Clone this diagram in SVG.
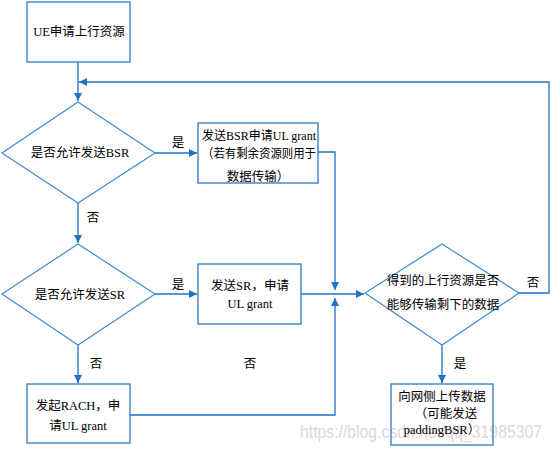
<svg xmlns="http://www.w3.org/2000/svg" width="552" height="450" viewBox="0 0 552 450">
<defs>
<marker id="ah" viewBox="0 0 10 10" refX="10" refY="5" markerWidth="9" markerHeight="8" markerUnits="userSpaceOnUse" orient="auto">
<path d="M0,0 L10,5 L0,10 z" fill="#1f72c4"/>
</marker>
<style>
.box{fill:#fff;stroke:#2e78c2;stroke-width:1.3}
.dia{fill:#fff;stroke:#3d8cd4;stroke-width:1.2}
.ln{fill:none;stroke:#1f72c4;stroke-width:1.3}
.t{font-family:"Liberation Serif","Noto Sans CJK SC",serif;font-size:12.5px;fill:#000;text-anchor:middle}
.wm{font-family:"Liberation Sans",Arial,sans-serif;font-size:19px;fill:#d9d9d9}
</style>
</defs>
<rect width="552" height="450" fill="#fff"/>
<text class="wm" x="300" y="438" textLength="242" lengthAdjust="spacingAndGlyphs">https://blog.csdn.net/qq_31985307</text>
<g id="connectors">
<path class="ln" d="M78,62 V101" marker-end="url(#ah)"/>
<path class="ln" d="M519,293 H549 V82 H79" marker-end="url(#ah)"/>
<path class="ln" d="M155,153 H197" marker-end="url(#ah)"/>
<path class="ln" d="M78,203 V243" marker-end="url(#ah)"/>
<path class="ln" d="M318,152 H335 V290" marker-end="url(#ah)"/>
<path class="ln" d="M155,294 H197" marker-end="url(#ah)"/>
<path class="ln" d="M301,294 H364" marker-end="url(#ah)"/>
<path class="ln" d="M78,345 V383" marker-end="url(#ah)"/>
<path class="ln" d="M130,415 H335 V298" marker-end="url(#ah)"/>
<path class="ln" d="M442,345 V383" marker-end="url(#ah)"/>
<text class="t" x="178" y="147">是</text>
<text class="t" x="93" y="222">否</text>
<text class="t" x="178" y="289">是</text>
<text class="t" x="96" y="368">否</text>
<text class="t" x="250" y="368">否</text>
<text class="t" x="533" y="287">否</text>
<text class="t" x="460" y="368">是</text>
</g>
<g id="n1">
<rect class="box" x="27" y="2" width="103" height="60"/>
<text class="t" x="79" y="36">UE申请上行资源</text>
</g>
<g id="n2">
<polygon class="dia" points="78,102 155,153 78,203 2,153"/>
<text class="t" x="80" y="157">是否允许发送BSR</text>
</g>
<g id="n3">
<rect class="box" x="198" y="123" width="120" height="60"/>
<text class="t" x="259" y="140" textLength="114" lengthAdjust="spacingAndGlyphs">发送BSR申请UL grant</text>
<text class="t" x="259" y="158" textLength="114" lengthAdjust="spacingAndGlyphs">（若有剩余资源则用于</text>
<text class="t" x="258" y="181">数据传输）</text>
</g>
<g id="n4">
<polygon class="dia" points="78,244 155,294 78,345 2,294"/>
<text class="t" x="80" y="299">是否允许发送SR</text>
</g>
<g id="n5">
<rect class="box" x="198" y="264" width="103" height="60"/>
<text class="t" x="250" y="290">发送SR，申请</text>
<text class="t" x="250" y="308">UL grant</text>
</g>
<g id="n6">
<polygon class="dia" points="442,244 519,293 442,345 365,293"/>
<text class="t" x="443" y="285">得到的上行资源是否</text>
<text class="t" x="443" y="309">能够传输剩下的数据</text>
</g>
<g id="n7">
<rect class="box" x="27" y="384" width="103" height="59"/>
<text class="t" x="78" y="410">发起RACH，申</text>
<text class="t" x="78" y="430">请UL grant</text>
</g>
<g id="n8">
<rect class="box" x="391" y="384" width="102" height="61" fill-opacity="0"/>
<text class="t" x="442" y="401">向网侧上传数据</text>
<text class="t" x="446" y="418">（可能发送</text>
<text class="t" x="442" y="434">paddingBSR）</text>
</g>
</svg>
